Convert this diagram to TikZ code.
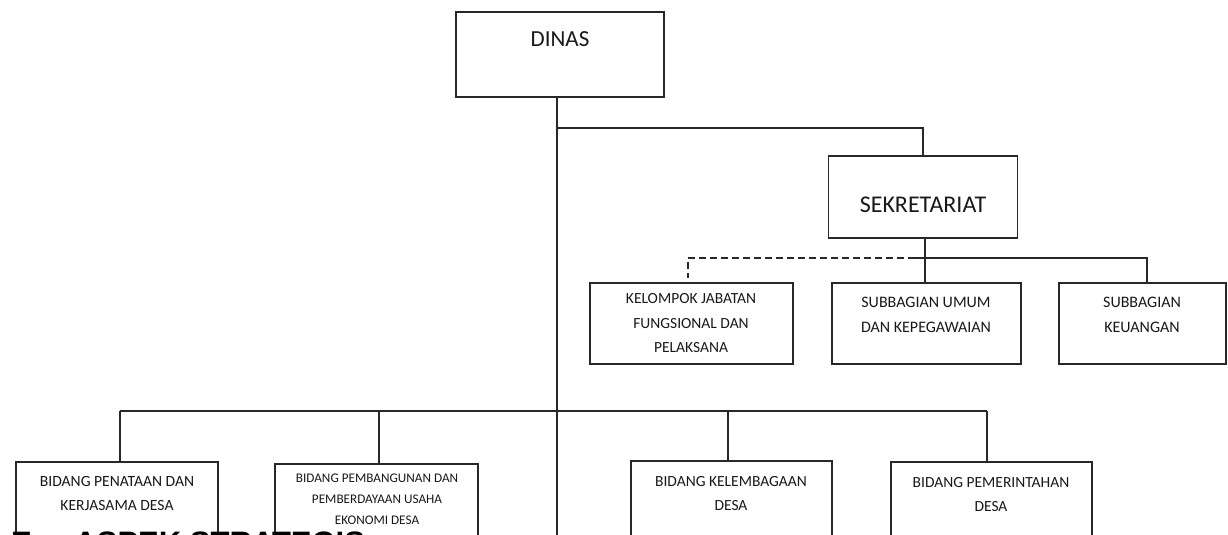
\documentclass[tikz,border=0pt]{standalone}
\usepackage{fontspec}
\setmainfont{Carlito}
\newfontfamily\headfont{Liberation Sans}
\definecolor{linec}{RGB}{40,40,40}
\definecolor{txtc}{RGB}{25,25,25}
\begin{document}
\begin{tikzpicture}[x=1pt,y=-1pt,
  orgbox/.style={draw=linec, line width=1.3pt, inner sep=0pt, outer sep=0pt},
  txt/.style={inner sep=0pt, align=center, text=txtc},
  conn/.style={draw=linec, line width=1.3pt},
  dconn/.style={draw=linec, line width=1.3pt, dash pattern=on 7pt off 4pt}]
\useasboundingbox (0,0) rectangle (1228,535);
\clip (0,0) rectangle (1228,535);
\fill[white] (0,0) rectangle (1228,535);
% boxes
\node[orgbox, minimum width=208, minimum height=85] (dinas) at (560,54.5) {};
\node[orgbox, minimum width=189, minimum height=82] (sek) at (923,197) {};
\node[orgbox, minimum width=203, minimum height=81] (kel) at (691.5,323.5) {};
\node[orgbox, minimum width=189, minimum height=81] (umum) at (926.5,323.5) {};
\node[orgbox, minimum width=167, minimum height=81] (keu) at (1142.5,323.5) {};
\node[orgbox, minimum width=202, minimum height=120] (pen) at (117,522) {};
\node[orgbox, minimum width=203, minimum height=120] (pem) at (376.5,524) {};
\node[orgbox, minimum width=201, minimum height=120] (lem) at (731.5,521) {};
\node[orgbox, minimum width=201, minimum height=120] (pmr) at (991.5,522) {};
% texts
\node[txt, font=\fontsize{23}{27}\selectfont] (tdinas) at (560,39) {DINAS};
\node[txt, font=\fontsize{24}{28}\selectfont] (tsek) at (923,205) {SEKRETARIAT};
\node[txt, font=\fontsize{15.5}{24.5}\selectfont] (tkel) at (691,323.5) {KELOMPOK JABATAN\\FUNGSIONAL DAN\\PELAKSANA};
\node[txt, font=\fontsize{16}{25}\selectfont] (tumum) at (926,314.5) {SUBBAGIAN UMUM\\DAN KEPEGAWAIAN};
\node[txt, font=\fontsize{16}{25}\selectfont] (tkeu) at (1142,314.5) {SUBBAGIAN\\KEUANGAN};
\node[txt, font=\fontsize{15.6}{24}\selectfont] (tpen) at (117,493) {BIDANG PENATAAN DAN\\KERJASAMA DESA};
\node[txt, font=\fontsize{13.2}{21}\selectfont] (tpem) at (377,499) {BIDANG PEMBANGUNAN DAN\\PEMBERDAYAAN USAHA\\EKONOMI DESA};
\node[txt, font=\fontsize{15.5}{24}\selectfont] (tlem) at (731,493.5) {BIDANG KELEMBAGAAN\\DESA};
\node[txt, font=\fontsize{15.5}{24}\selectfont] (tpmr) at (991,495) {BIDANG PEMERINTAHAN\\DESA};
% heading (cut off at the bottom edge)
\node[anchor=base west, inner sep=0pt, text=black,
      font=\headfont\bfseries\fontsize{31}{36}\selectfont] (head) at (11,553) {E.\hspace{34pt}ASPEK STRATEGIS};
% connectors
\coordinate (trunkend) at (557,540);
\coordinate (jsek) at (557,128);
\coordinate (jsub) at (925,258);
\coordinate (jsolid) at (915,258);
\coordinate (ckeu) at (1147,258);
\coordinate (ckel) at (688,258);
\coordinate (kelend) at (688,278);
\coordinate (b1) at (120,411);
\coordinate (b2) at (379,411);
\coordinate (b3) at (728,411);
\coordinate (b4) at (987,411);
\draw[conn] (dinas.south -| trunkend) -- (trunkend);
\draw[conn] (jsek) -| (sek.north);
\draw[conn] (sek.south -| jsub) -- (umum.north -| jsub);
\draw[conn] (jsolid) -- (ckeu) -- (ckeu |- keu.north);
\draw[dconn] (jsolid) -- (ckel) -- (kelend);
\draw[conn] (b1) -- (b4);
\draw[conn] (b1) -- (b1 |- pen.north);
\draw[conn] (b2) -- (b2 |- pem.north);
\draw[conn] (b3) -- (b3 |- lem.north);
\draw[conn] (b4) -- (b4 |- pmr.north);
\end{tikzpicture}
\end{document}
